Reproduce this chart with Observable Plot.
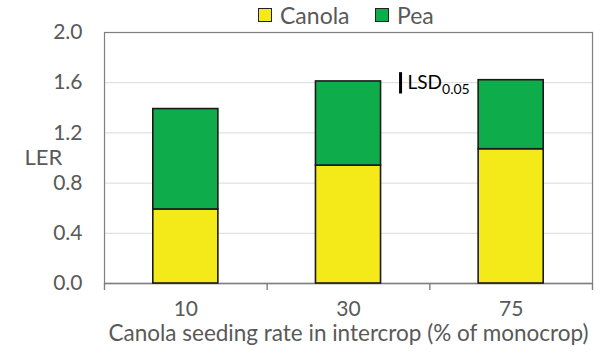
<!DOCTYPE html>
<html><head><meta charset="utf-8">
<script src="https://cdn.jsdelivr.net/npm/d3@7"></script>
<script src="https://cdn.jsdelivr.net/npm/@observablehq/plot@0.6"></script>
<style>
body{margin:0;background:#fff;font-family:Lato,sans-serif;}
#wrap{position:relative;width:600px;height:353px;overflow:hidden;}
.lg{position:absolute;top:1px;height:28px;display:flex;align-items:center;font-size:23px;color:#595959;font-family:Lato,sans-serif;}
.sw{width:12px;height:12px;border:1.8px solid #222;margin-right:8px;}
</style></head><body><div id="wrap"></div>
<script>
const categories = ["10", "30", "75"];
const canola = [0.59, 0.94, 1.07];
const pea = [0.80, 0.67, 0.55];
const yTicks = [0, 0.4, 0.8, 1.2, 1.6, 2.0];
const crops = ["Canola", "Pea"];
const cropColors = ["#F4EA1A", "#0FAC4B"];
const lsdX = 1.82;      // position between 30 and 75 (category index units)
const lsdBase = 1.51;
const lsdValue = 0.17;

const rows = [];
categories.forEach((c, i) => {
  rows.push({i, crop: "Canola", y1: 0, y2: canola[i]});
  rows.push({i, crop: "Pea", y1: canola[i], y2: canola[i] + pea[i]});
});
const lsd = [{x: lsdX, y1: lsdBase, y2: lsdBase + lsdValue}];

const chart = Plot.plot({
  width: 600, height: 353,
  marginLeft: 104, marginRight: 8, marginTop: 32, marginBottom: 70,
  x: {domain: [0, 3], axis: null},
  y: {domain: [0, 2], axis: null},
  color: {domain: crops, range: cropColors},
  style: {fontFamily: "Lato, sans-serif", color: "#595959", fontSize: "17px", background: "white"},
  marks: [
    Plot.ruleY(yTicks.filter(d => d > 0), {stroke: "#d9d9d9", strokeWidth: 1}),
    Plot.frame({stroke: "#7f7f7f", strokeWidth: 1.2}),
    Plot.ruleY([0], {stroke: "#7f7f7f", strokeWidth: 1.4}),
    Plot.axisX({ticks: [0, 1, 2, 3], tickSize: 7, tickFormat: () => "", stroke: "#7f7f7f", strokeWidth: 1.4, label: null}),
    Plot.text(categories, {x: (d, i) => i + 0.5, frameAnchor: "bottom", dy: 32, text: d => d, fontSize: 21, fill: "#595959"}),
    Plot.text(yTicks, {y: d => d, frameAnchor: "left", textAnchor: "end", dx: -22, text: d => d3.format(".1f")(d), fontSize: 21, fill: "#595959"}),
    Plot.text(["LER"], {frameAnchor: "left", textAnchor: "start", dx: -80, text: d => d, fontSize: 22, fill: "#595959"}),
    Plot.text(["Canola seeding rate in intercrop (% of monocrop)"], {frameAnchor: "bottom", dy: 57, text: d => d, fontSize: 22.5, fill: "#595959"}),
    Plot.rect(rows, {x1: d => d.i + 0.3, x2: d => d.i + 0.7, y1: "y1", y2: "y2", fill: "crop", stroke: "#1a1a1a", strokeWidth: 1.6}),
    Plot.ruleX(lsd, {x: "x", y1: "y1", y2: "y2", stroke: "black", strokeWidth: 3}),
    Plot.text(lsd, {x: "x", y: d => (d.y1 + d.y2) / 2, text: () => "LSD", textAnchor: "start", dx: 7, fontSize: 19, fill: "black", className: "lsd-label"})
  ]
});
document.getElementById("wrap").appendChild(chart);
d3.select(chart).selectAll(".lsd-label text").append("tspan").attr("dy", "0.35em").attr("font-size", 14).text("0.05");

const wrap = document.getElementById("wrap");
const legendPos = [258, 375];
crops.forEach((c, k) => {
  const d = document.createElement("div");
  d.className = "lg";
  d.style.left = legendPos[k] + "px";
  d.innerHTML = `<div class="sw" style="background:${cropColors[k]}"></div><span>${c}</span>`;
  wrap.appendChild(d);
});
</script></body></html>
